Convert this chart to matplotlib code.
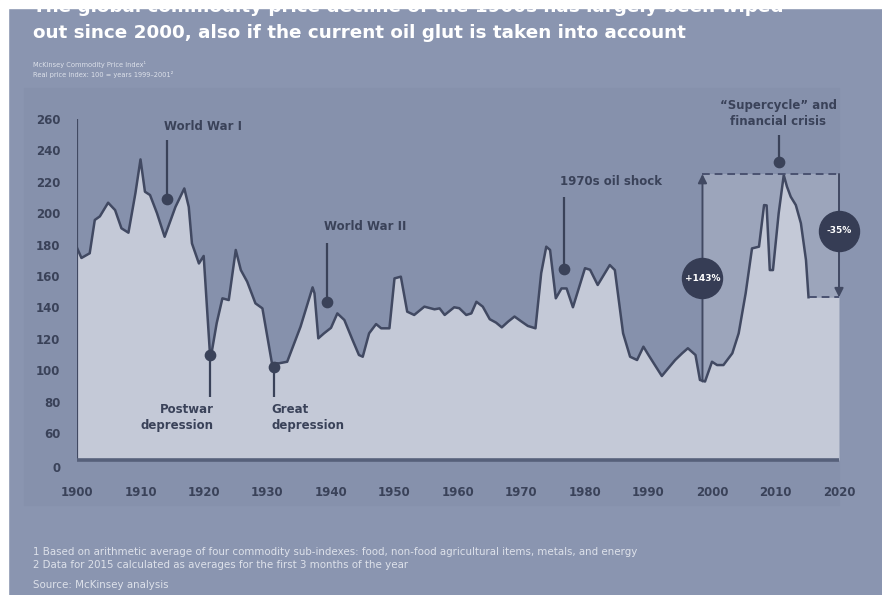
import matplotlib
matplotlib.use("Agg")
import matplotlib.pyplot as plt
from matplotlib.patches import Rectangle
import numpy as np

# ---------------- data ----------------
years = [1900.0, 1900.7, 1902.0, 1902.8, 1903.6, 1904.9, 1906.0, 1907.0, 1908.1, 1909.2,
         1910.0, 1910.7, 1911.5, 1912.6, 1913.8, 1915.5, 1916.9, 1917.6, 1918.1, 1919.2,
         1919.95, 1920.5, 1921.0, 1922.0, 1922.9, 1923.9, 1925.0, 1925.8, 1926.8, 1928.1,
         1929.2, 1930.7, 1931.8, 1933.1, 1935.2, 1937.1, 1937.4, 1938.0, 1938.9, 1940.0,
         1941.0, 1942.1, 1943.4, 1944.4, 1945.0, 1946.0, 1947.1, 1947.9, 1949.2, 1950.0,
         1951.0, 1952.0, 1953.1, 1954.7, 1956.3, 1957.1, 1957.9, 1959.4, 1960.2, 1961.3,
         1962.1, 1962.9, 1963.9, 1965.0, 1966.0, 1966.9, 1967.9, 1968.9, 1970.0, 1971.0,
         1972.2, 1973.1, 1973.9, 1974.5, 1975.4, 1976.3, 1977.1, 1978.1, 1980.0, 1980.8,
         1982.0, 1983.9, 1984.7, 1986.0, 1987.1, 1988.2, 1989.2, 1990.0, 1991.0, 1992.1,
         1993.1, 1994.2, 1995.3, 1996.2, 1997.4, 1998.1, 1998.9, 2000.0, 2000.8, 2001.8,
         2003.2, 2004.2, 2005.3, 2006.3, 2007.4, 2008.2, 2008.6, 2009.1, 2009.6, 2010.5,
         2011.3, 2011.8, 2012.4, 2013.2, 2014.0, 2014.8, 2015.2]
index_values = [178, 171.5, 174.5, 195.7, 198, 206.7, 202, 190.4, 187.6, 212.8,
                234.3, 213.7, 211.6, 200, 185, 204, 215.8, 204, 180.8, 168,
                172.8, 138, 106.5, 130, 145.8, 144.7, 176.6, 163.8, 156.4, 142.6,
                139.4, 104.4, 104.4, 105.4, 127.7, 152.8, 149, 120.3, 123.5, 127,
                136.2, 132, 119.2, 109.7, 108.6, 123.5, 129.4, 126.7, 126.7, 158.5,
                159.6, 137.3, 135.2, 140.5, 138.8, 139.4, 135.2, 140.1, 139.5, 135.2,
                136.2, 143.6, 140.5, 132.5, 130.3, 127.3, 131, 134.2, 131, 128.2,
                126.7, 161.8, 178.7, 176.6, 145.8, 152.1, 152.1, 140.1, 165, 164,
                154.3, 167, 163.8, 123.5, 108.6, 106.5, 115, 109.7, 103.3, 96.3,
                101.2, 106.5, 110.8, 114, 109.7, 93.8, 92.8, 105.4, 103.3, 103.3,
                110.8, 123.5, 149, 177.6, 178.7, 205.2, 205, 163.8, 163.8, 200,
                224.3, 217, 210.5, 205.2, 193.6, 170.2, 146.5]

x_ticks = [1900, 1910, 1920, 1930, 1940, 1950, 1960, 1970, 1980, 1990, 2000, 2010, 2020]
y_tick_labels = ["0", "60", "80", "100", "120", "140", "160", "180", "200", "220", "240", "260"]
y_tick_values = [38.3, 60, 80, 100, 120, 140, 160, 180, 200, 220, 240, 260]

# annotations: label, year, dot value, line end value
events = [
    ("World War I", 1914.1, 209, 246.6),
    ("Postwar\ndepression", 1921.0, 110, 83),
    ("Great\ndepression", 1931.1, 102, 83),
    ("World War II", 1939.3, 143.6, 181),
    ("1970s oil shock", 1976.7, 164.2, 210.6),
    ("\u201cSupercycle\u201d and\nfinancial crisis", 2010.5, 232.8, 249.8),
]
rise_start_year, rise_low, peak_value = 1998.5, 92.8, 225.0
end_year = 2020
rise_label, fall_label = "+143%", "-35%"

# ---------------- style ----------------
W, H = 882, 595
BG = "#8a95b0"
PANEL = "#8691ac"
BOX = "#9ca5bb"
FILL = "#c4c9d7"
LINE = "#414962"
DARK = "#3a4259"
CIRCLE = "#363d55"
baseline = 42.8

fig = plt.figure(figsize=(W / 100, H / 100), dpi=100, facecolor=BG)

def fy(px):
    return 1 - px / H

def fx(px):
    return px / W

# subtle panel behind the chart
fig.patches.append(Rectangle((fx(24), fy(505)), fx(839) - fx(24), fy(88) - fy(505),
                             transform=fig.transFigure, color=PANEL, zorder=-1))

ax = fig.add_axes([fx(77), fy(470.7), fx(839) - fx(77), fy(115.9) - fy(470.7)])
ax.set_facecolor("none")
ax.set_xlim(1900, 2020)
ax.set_ylim(36, 262)
for s in ax.spines.values():
    s.set_visible(False)

yrs = np.array(years)
vals = np.array(index_values)
ext_years = np.append(yrs, end_year)
ext_vals = np.append(vals, vals[-1])

# lighter box of the recent cycle
ax.fill_between([rise_start_year, end_year], baseline, peak_value, color=BOX, zorder=1, lw=0)
# area under curve
ax.fill_between(ext_years, ext_vals, baseline, color=FILL, zorder=2, lw=0)
ax.plot(yrs, vals, color=LINE, lw=1.8, zorder=3, solid_joinstyle="round")
# axes lines
ax.vlines(1900, baseline, 260, color=LINE, lw=1.6, zorder=3)
ax.hlines(baseline, 1900, 2020, color="#56607a", lw=2.6, zorder=3)

# dashed guide lines
ax.hlines(peak_value, rise_start_year, end_year, color="#4a5270", lw=1.4,
          linestyles=(0, (4, 2.5)), zorder=3)
ax.hlines(vals[-1], yrs[-1], end_year, color="#4a5270", lw=1.4,
          linestyles=(0, (4, 2.5)), zorder=3)

# arrows
ax.annotate("", xy=(rise_start_year, peak_value), xytext=(rise_start_year, rise_low),
            arrowprops=dict(arrowstyle="-|>", color=LINE, lw=1.4, mutation_scale=13,
                            shrinkA=0, shrinkB=0), zorder=4)
ax.annotate("", xy=(end_year, vals[-1]), xytext=(end_year, peak_value),
            arrowprops=dict(arrowstyle="-|>", color=LINE, lw=1.4, mutation_scale=13,
                            shrinkA=0, shrinkB=0), zorder=4, annotation_clip=False)

# percentage circles
ax.scatter([rise_start_year], [158.5], s=830, color=CIRCLE, zorder=5, clip_on=False)
ax.text(rise_start_year, 158.5, rise_label, color="white", fontsize=6.5, fontweight="bold",
        ha="center", va="center", zorder=6)
ax.scatter([end_year], [189], s=830, color=CIRCLE, zorder=5, clip_on=False)
ax.text(end_year, 189, fall_label, color="white", fontsize=6.5, fontweight="bold",
        ha="center", va="center", zorder=6)

# event markers
label_pos = [
    (1913.7, 255.5, "left"),
    (1921.5, 70, "right"),
    (1930.6, 70, "left"),
    (1938.9, 191.5, "left"),
    (1976.1, 220.5, "left"),
    (2010.4, 263.5, "center"),
]
for (lab, yr, dv, lv), (tx, ty, ha) in zip(events, label_pos):
    ax.vlines(yr, min(dv, lv), max(dv, lv), color=DARK, lw=1.6, zorder=4)
    ax.scatter([yr], [dv], s=55, color=DARK, zorder=5, clip_on=False)
    ax.text(tx, ty, lab, color=DARK, fontsize=8.5, fontweight="bold", ha=ha,
            va="center", multialignment=ha, linespacing=1.3, zorder=6)

# ticks
ax.set_xticks(x_ticks)
ax.set_xticklabels([str(t) for t in x_ticks])
ax.set_yticks(y_tick_values)
ax.set_yticklabels(y_tick_labels)
ax.tick_params(axis="both", length=0, colors=DARK, labelsize=8.5)
ax.tick_params(axis="x", pad=11)
ax.tick_params(axis="y", pad=12)
for lbl in ax.get_xticklabels() + ax.get_yticklabels():
    lbl.set_fontweight("bold")
    lbl.set_color(DARK)

# titles
fig.text(fx(33), fy(7), "The global commodity price decline of the 1900s has largely been wiped",
         color="white", fontsize=13.2, fontweight="bold", ha="left", va="center")
fig.text(fx(33), fy(33), "out since 2000, also if the current oil glut is taken into account",
         color="white", fontsize=13.2, fontweight="bold", ha="left", va="center")
fig.text(fx(33), fy(64), "McKinsey Commodity Price Index\u00b9", color="#dde1ea",
         fontsize=4.8, ha="left", va="center")
fig.text(fx(33), fy(75), "Real price index: 100 = years 1999\u20132001\u00b2", color="#dde1ea",
         fontsize=4.8, ha="left", va="center")

# footnotes
fig.text(fx(33), fy(552), "1 Based on arithmetic average of four commodity sub-indexes: food, "
         "non-food agricultural items, metals, and energy", color="#dde1ea", fontsize=7.4,
         ha="left", va="center")
fig.text(fx(33), fy(565), "2 Data for 2015 calculated as averages for the first 3 months of the year",
         color="#dde1ea", fontsize=7.4, ha="left", va="center")
fig.text(fx(33), fy(585), "Source: McKinsey analysis", color="#dde1ea", fontsize=7.4,
         ha="left", va="center")

# white border strips of the screenshot
fig.patches.append(Rectangle((0, fy(8)), 1, 1 - fy(8), transform=fig.transFigure,
                             color="white", zorder=10))
fig.patches.append(Rectangle((0, 0), fx(8), 1, transform=fig.transFigure,
                             color="white", zorder=10))

fig.savefig("out.png", dpi=100, facecolor=BG)
